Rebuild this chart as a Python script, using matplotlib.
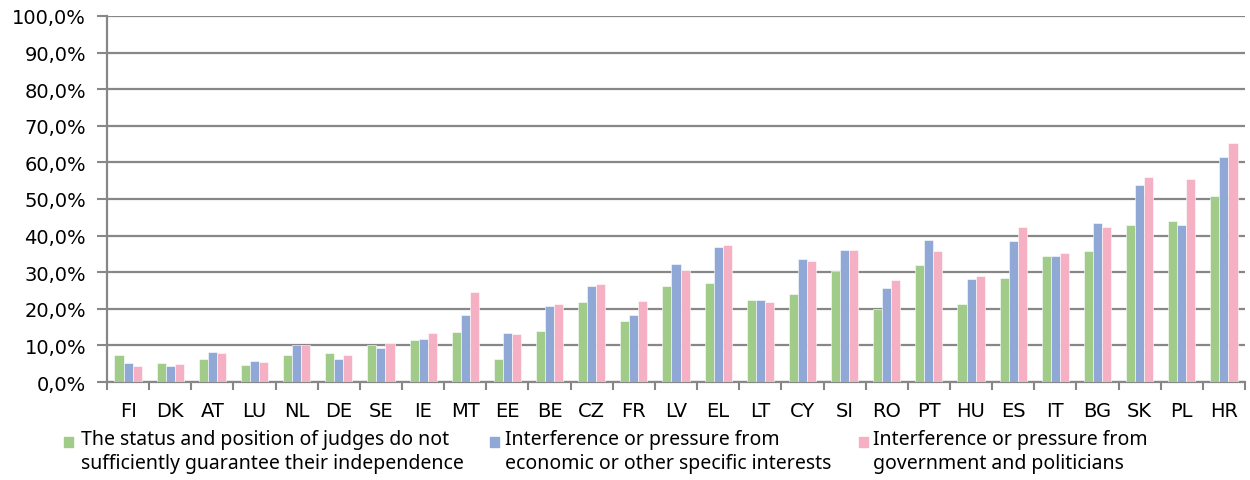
import numpy as np
import matplotlib
matplotlib.use('Agg')
import matplotlib.pyplot as plt
from matplotlib.patches import Rectangle

countries = ['FI', 'DK', 'AT', 'LU', 'NL', 'DE', 'SE', 'IE', 'MT', 'EE', 'BE', 'CZ', 'FR', 'LV',
             'EL', 'LT', 'CY', 'SI', 'RO', 'PT', 'HU', 'ES', 'IT', 'BG', 'SK', 'PL', 'HR']

status_judges = [7.4, 5.2, 6.4, 4.6, 7.4, 8.0, 10.1, 11.5, 13.6, 6.3, 14.0, 21.9, 16.7, 26.3,
                 27.1, 22.5, 24.1, 30.2, 19.9, 32.1, 21.3, 28.4, 34.3, 35.7, 42.8, 44.1, 50.9]
economic = [5.2, 4.3, 8.3, 5.8, 10.1, 6.4, 9.3, 11.8, 18.3, 13.4, 20.7, 26.2, 18.3, 32.3,
            36.9, 22.5, 33.6, 36.1, 25.6, 38.9, 28.1, 38.6, 34.3, 43.5, 53.7, 42.8, 61.4]
government = [4.4, 4.9, 8.0, 5.5, 10.1, 7.4, 10.7, 13.4, 24.7, 13.1, 21.3, 26.8, 22.2, 30.5,
              37.5, 21.9, 33.0, 36.1, 27.8, 35.8, 29.0, 42.3, 35.2, 42.3, 56.1, 55.4, 65.3]

series_labels = ['The status and position of judges do not\nsufficiently guarantee their independence',
                 'Interference or pressure from\neconomic or other specific interests',
                 'Interference or pressure from\ngovernment and politicians']
colors = ['#A0CB88', '#8FA8D6', '#F5B0C3']

grey = '#878787'

fig = plt.figure(figsize=(12.5, 4.81), dpi=100)
ax = fig.add_axes([0.0856, 0.2037, 0.9104, 0.761])

x = np.arange(len(countries))
w = 0.215
for i, (vals, c) in enumerate(zip([status_judges, economic, government], colors)):
    ax.bar(x + (i - 1) * w, vals, width=w, color=c, edgecolor='white', linewidth=0.4, zorder=3)

ax.set_xlim(-0.5, len(countries) - 0.5)
ax.set_ylim(0, 100)
ax.set_yticks(np.arange(0, 101, 10))
ax.set_yticklabels([f'{v},0%' for v in range(0, 101, 10)], fontsize=14)
ax.yaxis.grid(True, color=grey, linewidth=1.6, zorder=0)

ax.set_xticks(x)
ax.set_xticklabels(countries, fontsize=14)
ax.set_xticks(np.arange(-0.5, len(countries), 1), minor=True)
ax.tick_params(axis='x', which='major', length=0, pad=14)
ax.tick_params(axis='x', which='minor', length=6, color=grey, width=1.5)
ax.tick_params(axis='y', length=7, color=grey, width=1.5, pad=8)

for s in ['top', 'right']:
    ax.spines[s].set_visible(False)
for s in ['left', 'bottom']:
    ax.spines[s].set_color(grey)
    ax.spines[s].set_linewidth(1.6)

# legend
sq_x = [64, 490, 859]
txt_x = [81, 505, 873]
for sx, tx, lab, c in zip(sq_x, txt_x, series_labels, colors):
    fig.add_artist(Rectangle((sx / 1250, 1 - 448 / 481), 9 / 1250, 10 / 481,
                             transform=fig.transFigure, color=c))
    fig.text(tx / 1250, 1 - 430 / 481, lab, family='Noto Sans', fontsize=14,
             va='top', ha='left', linespacing=1.28)

fig.savefig('out.png', dpi=100)
